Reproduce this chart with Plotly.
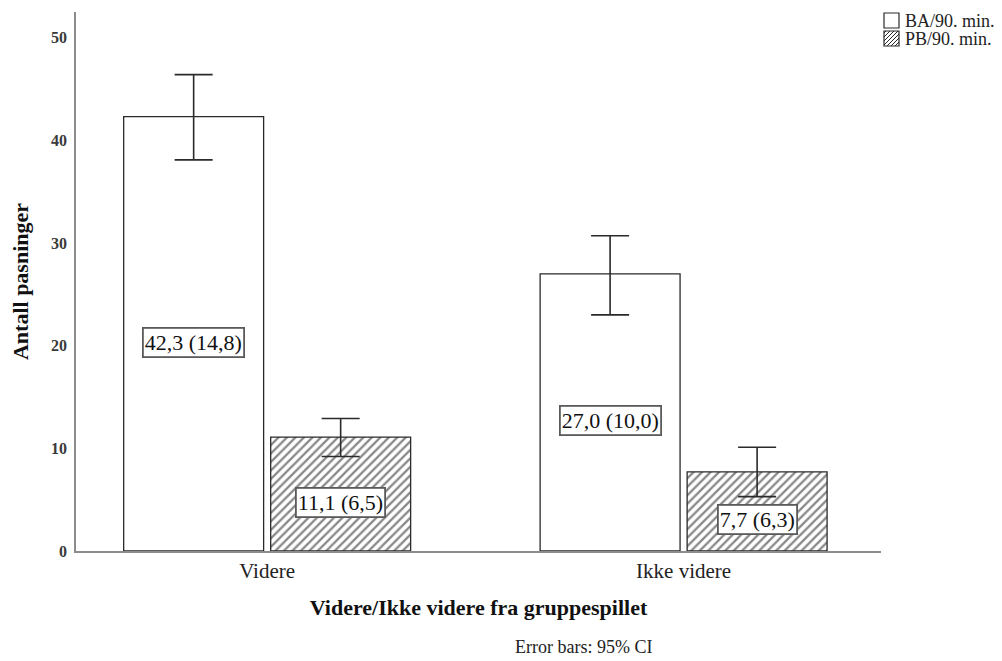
import plotly.graph_objects as go

# Passes per 90 minutes, by whether the team advanced from the group stage
categories = ["Videre", "Ikke videre"]
series_names = ["BA/90. min.", "PB/90. min."]
ba_mean = [42.3, 27.0]
ba_sd = [14.8, 10.0]
ba_ci_low = [38.1, 23.0]
ba_ci_high = [46.4, 30.7]
pb_mean = [11.1, 7.7]
pb_sd = [6.5, 6.3]
pb_ci_low = [9.2, 5.3]
pb_ci_high = [12.9, 10.1]
y_ticks = [0, 10, 20, 30, 40, 50]

SERIF = "Liberation Serif"
INK = "#222222"
W, H = 1002, 661
ML, MR, MT, MB = 76, 121, 12, 110
PW, PH = W - ML - MR, H - MT - MB
x_pos = list(range(len(categories)))


def px_x(px):
    return (px - ML) / PW


def px_y(py):
    return (H - MB - py) / PH


def err(mean, lo, hi):
    return dict(
        type="data",
        symmetric=False,
        array=[h - m for h, m in zip(hi, mean)],
        arrayminus=[m - l for m, l in zip(mean, lo)],
        color="#2a2a2a",
        thickness=1.6,
        width=19,
    )


HATCH = dict(shape="/", fgcolor="#111111", bgcolor="white", size=6, solidity=0.38)

fig = go.Figure()
fig.add_trace(go.Bar(
    x=x_pos, y=ba_mean, name=series_names[0],
    marker=dict(color="white", line=dict(color="#2a2a2a", width=1.3)),
    error_y=err(ba_mean, ba_ci_low, ba_ci_high),
))
fig.add_trace(go.Bar(
    x=x_pos, y=pb_mean, name=series_names[1],
    marker=dict(color="white", line=dict(color="#2a2a2a", width=1.3),
                pattern=HATCH),
    error_y=err(pb_mean, pb_ci_low, pb_ci_high),
))

# Mean (SD) labels inside each bar
n_traces = 2
bargap = 0.294
slot = (1 - bargap) / n_traces
for t, (means, sds) in enumerate([(ba_mean, ba_sd), (pb_mean, pb_sd)]):
    offset = (t - (n_traces - 1) / 2) * slot
    for i, (m, s) in enumerate(zip(means, sds)):
        txt = f"{m:.1f} ({s:.1f})".replace(".", ",")
        fig.add_annotation(
            x=x_pos[i] + offset, y=m * 0.5 - 0.8, xref="x", yref="y",
            text=txt, showarrow=False,
            font=dict(family=SERIF, size=22, color="#111111"),
            bgcolor="white", bordercolor="#5a5a5a", borderwidth=1.8,
            borderpad=1,
        )

# Legend swatches and labels
shapes = []
sw_x0, sw_x1 = 884, 899
rows = [(13, 28), (31, 46)]
for k, (y0, y1) in enumerate(rows):
    shapes.append(dict(
        type="rect", xref="paper", yref="paper",
        x0=px_x(sw_x0), x1=px_x(sw_x1), y0=px_y(y1), y1=px_y(y0),
        line=dict(color="#2a2a2a", width=1.2), fillcolor="white", layer="above",
    ))
    if k == 1:
        path = []
        step = 4
        size = sw_x1 - sw_x0
        c = step
        while c < 2 * size:
            # rising diagonals, clipped to the swatch square
            ax, ay = max(0, c - size), min(c, size)
            bx, by = min(c, size), max(0, c - size)
            p1 = (sw_x1 - ax, y1 - ay)
            p2 = (sw_x1 - bx, y1 - by)
            path.append(f"M{px_x(p1[0])},{px_y(p1[1])}L{px_x(p2[0])},{px_y(p2[1])}")
            c += step
        shapes.append(dict(
            type="path", xref="paper", yref="paper", path="".join(path),
            line=dict(color="#2a2a2a", width=1), layer="above",
        ))
    fig.add_annotation(
        x=px_x(903), y=px_y((y0 + y1) / 2), xref="paper", yref="paper",
        xanchor="left", yanchor="middle", text=series_names[k], showarrow=False,
        font=dict(family=SERIF, size=18, color=INK),
    )

fig.add_annotation(
    x=px_x(583), y=px_y(647), xref="paper", yref="paper",
    xanchor="center", yanchor="middle", text="Error bars: 95% CI",
    showarrow=False, font=dict(family=SERIF, size=18, color=INK),
)

fig.update_layout(
    width=W, height=H,
    margin=dict(l=ML, r=MR, t=MT, b=MB),
    paper_bgcolor="white", plot_bgcolor="white",
    barmode="group", bargap=bargap, bargroupgap=0.048,
    font=dict(family=SERIF, color=INK),
    showlegend=False,
    shapes=shapes,
    xaxis=dict(
        range=[-0.459, 1.474],
        tickvals=x_pos, ticktext=categories,
        tickfont=dict(family=SERIF, size=21, color=INK),
        showline=True, linecolor="#8c8c8c", linewidth=1.6,
        showgrid=False, zeroline=False, ticks="",
        title=dict(text="<b>Videre/Ikke videre fra gruppespillet</b>",
                   font=dict(family=SERIF, size=22, color="#111111"),
                   standoff=18),
    ),
    yaxis=dict(
        range=[0, 52.5],
        tickvals=y_ticks,
        tickfont=dict(family=SERIF, size=16, color="#3a3a3a", weight="bold"),
        ticklabelstandoff=4,
        showline=True, linecolor="#8c8c8c", linewidth=1.6,
        showgrid=False, zeroline=False, ticks="",
        title=dict(text="<b>Antall pasninger</b>",
                   font=dict(family=SERIF, size=22, color="#111111"),
                   standoff=16),
    ),
)

fig.write_html("out.html")
